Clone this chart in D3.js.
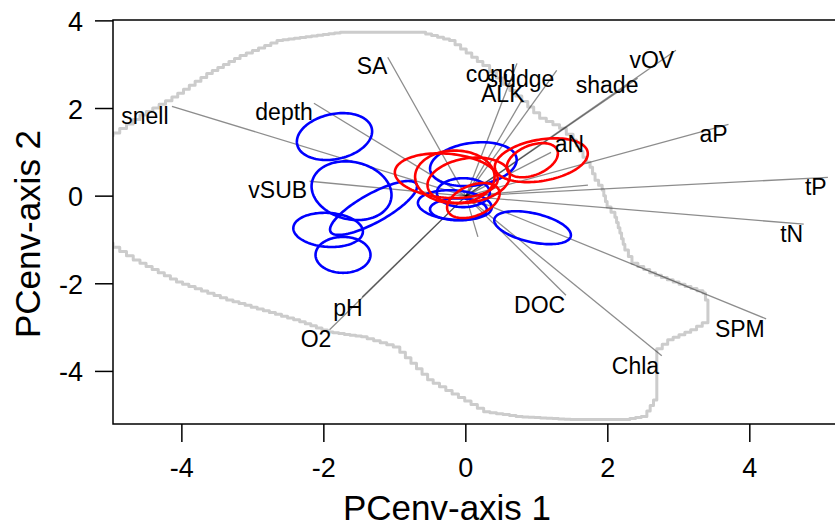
<!DOCTYPE html>
<html>
<head>
<meta charset="utf-8">
<script src="https://cdn.jsdelivr.net/npm/d3@7"></script>
<style>
  html, body { margin: 0; padding: 0; background: #fff; }
  svg { display: block; }
  text { font-family: "Liberation Sans", Arial, Helvetica, sans-serif; fill: #000; }
</style>
</head>
<body>
<svg id="chart" width="835" height="526"></svg>
<script>
// ---------------- data ----------------
const xTicks = [-4, -2, 0, 2, 4];
const yTicks = [-4, -2, 0, 2, 4];
const xTitle = "PCenv-axis 1";
const yTitle = "PCenv-axis 2";

// variable arrows (end point in PC units) and label positions (centre x, baseline y)
const varNames = ["snell","depth","SA","vSUB","cond","sludge","ALK","shade","vOV","aN","aP","tP","tN","SPM","Chla","DOC","pH","O2","",""];
const varX = [-4.14,-2.14,-1.10,-2.20,0.72,1.28,0.79,2.42,2.96,1.20,3.70,5.10,4.76,4.23,2.76,1.41,-1.46,-1.92,1.72,0.17];
const varY = [2.05,2.12,3.17,0.34,3.03,2.87,2.19,2.69,3.33,1.00,1.64,0.43,-0.64,-2.80,-3.64,-2.26,-2.30,-3.05,0.25,-0.93];
const labX = [-4.52,-2.56,-1.32,-2.65,0.35,0.77,0.52,1.99,2.62,1.46,3.49,4.93,4.59,3.86,2.39,1.04,-1.66,-2.11,null,null];
const labY = [1.64,1.73,2.78,-0.05,2.60,2.48,2.14,2.35,2.92,1.00,1.23,0.02,-1.05,-3.21,-4.05,-2.67,-2.73,-3.44,null,null];

// outline of the sampled environmental space
const hullX = [-5.15,-4.97,-4.59,-4.14,-3.65,-3.18,-2.66,-1.77,-0.65,-0.23,0.24,0.62,1.04,1.32,1.51,1.65,1.75,1.82,1.92,1.99,2.10,2.17,2.24,2.34,2.59,2.92,3.34,3.41,3.41,3.25,2.92,2.69,2.69,2.55,2.31,1.56,0.80,0.34,-0.46,-0.93,-1.39,-1.87,-2.34,-3.28,-3.99,-4.59,-4.97,-5.15];
const hullY = [1.32,1.44,1.85,2.26,2.80,3.21,3.55,3.74,3.74,3.55,2.98,2.41,1.78,1.55,1.28,0.89,0.66,0.36,0.14,-0.25,-0.48,-0.84,-1.23,-1.53,-1.75,-1.96,-2.21,-2.53,-2.89,-3.05,-3.28,-3.58,-4.65,-5.03,-5.10,-5.10,-5.03,-4.92,-4.19,-3.44,-3.21,-3.10,-2.82,-2.37,-1.96,-1.46,-1.07,-0.96];

// group ellipses: centre, half-extent along x, half-extent along y, correlation
const ellGroup = ["b","b","b","b","b","b","b","b","b","b","r","r","r","r","r","r"];
const ellCx = [-1.85,-1.61,-1.30,-1.94,-1.73,0.94,0.106,-0.035,-0.155,-0.105, 1.063,0.937,-0.275,-0.155,0.04,0.106];
const ellCy = [1.36,0.125,-0.27,-0.77,-1.34,-0.72,0.73,0.08,-0.205,-0.30, 0.82,0.82,0.467,0.44,0.36,-0.10];
const ellA  = [0.53,0.563,0.613,0.49,0.387,0.54,0.61,0.373,0.52,0.40, 0.655,0.36,0.725,0.56,0.58,0.37];
const ellB  = [0.535,0.67,0.615,0.39,0.41,0.376,0.50,0.33,0.34,0.25, 0.50,0.39,0.51,0.60,0.52,0.40];
const ellR  = [0.22,-0.15,0.8,-0.1,0.0,-0.45,0.2,0.0,-0.15,0.0, 0.3,0.4,-0.15,0.0,0.2,0.4];
const groupColor = {b: "#0000ff", r: "#ff0000"};

// ---------------- drawing ----------------
const svg = d3.select("#chart");
const pLeft = 113, pRight = 835, pTop = 20, pBottom = 424;
const x = d3.scaleLinear().domain([-4.97, 5.2]).range([pLeft, pRight]);
const y = d3.scaleLinear().domain([-5.2, 4.02]).range([pBottom, pTop]);

svg.append("defs").append("clipPath").attr("id", "plotclip")
  .append("rect").attr("x", pLeft).attr("y", pTop).attr("width", pRight - pLeft + 20).attr("height", pBottom - pTop);

const plot = svg.append("g").attr("clip-path", "url(#plotclip)");

// hull outline, rendered as a raster-like staircase (the outline comes from a gridded map)
function staircasePath(pts) {
  const p = d3.path();
  p.moveTo(pts[0][0], pts[0][1]);
  for (let i = 1; i < pts.length; i++) {
    const [x0, y0] = pts[i - 1], [x1, y1] = pts[i];
    const dx = x1 - x0, dy = y1 - y0;
    const n = Math.max(1, Math.round(Math.max(Math.abs(dx), Math.abs(dy)) / 6));
    for (let k = 1; k <= n; k++) {
      p.lineTo(x0 + dx * k / n, y0 + dy * (k - 1) / n);
      p.lineTo(x0 + dx * k / n, y0 + dy * k / n);
    }
  }
  return p.toString();
}
const hullPts = hullX.map((v, i) => [x(v), y(hullY[i])]);
plot.append("path")
  .attr("d", staircasePath(hullPts))
  .attr("fill", "none").attr("stroke", "#cccccc").attr("stroke-width", 3)
  .attr("stroke-linejoin", "round");

// arrows
plot.selectAll("line.var").data(varX.map((v, i) => i)).join("line")
  .attr("class", "var")
  .attr("x1", x(0)).attr("y1", y(0))
  .attr("x2", i => x(varX[i])).attr("y2", i => y(varY[i]))
  .attr("stroke", "#000").attr("stroke-opacity", 0.45).attr("stroke-width", 1.3);

// labels
svg.selectAll("text.var").data(varNames.map((n, i) => i).filter(i => varNames[i] !== "")).join("text")
  .attr("class", "var")
  .attr("x", i => x(labX[i])).attr("y", i => y(labY[i]))
  .attr("text-anchor", "middle")
  .style("font-size", "23px")
  .text(i => varNames[i]);

// ellipses
const tSteps = d3.range(0, 120).map(k => k / 120 * 2 * Math.PI);
const ellLine = d3.line().x(d => x(d[0])).y(d => y(d[1])).curve(d3.curveLinearClosed);
plot.selectAll("path.ell").data(ellCx.map((v, i) => i)).join("path")
  .attr("class", "ell")
  .attr("d", i => {
    const r = ellR[i], s = Math.sqrt(1 - r * r);
    return ellLine(tSteps.map(t => [ellCx[i] + ellA[i] * Math.cos(t),
                                    ellCy[i] + ellB[i] * (r * Math.cos(t) + s * Math.sin(t))]));
  })
  .attr("fill", "none")
  .attr("stroke", i => groupColor[ellGroup[i]])
  .attr("stroke-width", 2.6);

// frame (right side lies outside the window)
svg.append("path")
  .attr("d", `M${pRight + 10},${pTop}H${pLeft}V${pBottom}H${pRight + 10}`)
  .attr("fill", "none").attr("stroke", "#000").attr("stroke-width", 1.5);

// x axis ticks
const xa = svg.append("g");
xa.selectAll("line").data(xTicks).join("line")
  .attr("x1", d => x(d)).attr("x2", d => x(d))
  .attr("y1", pBottom).attr("y2", pBottom + 18)
  .attr("stroke", "#000").attr("stroke-width", 1.5);
xa.selectAll("text").data(xTicks).join("text")
  .attr("x", d => x(d)).attr("y", 477)
  .attr("text-anchor", "middle").style("font-size", "27px")
  .text(d => d);

// y axis ticks
const ya = svg.append("g");
ya.selectAll("line").data(yTicks).join("line")
  .attr("x1", pLeft - 18).attr("x2", pLeft)
  .attr("y1", d => y(d)).attr("y2", d => y(d))
  .attr("stroke", "#000").attr("stroke-width", 1.5);
ya.selectAll("text").data(yTicks).join("text")
  .attr("x", 83).attr("y", d => y(d) + 10)
  .attr("text-anchor", "end").style("font-size", "27px")
  .text(d => d);

// titles
svg.append("text").attr("x", 447).attr("y", 520)
  .attr("text-anchor", "middle").style("font-size", "35px").text(xTitle);
svg.append("text").attr("transform", "translate(40,234) rotate(-90)")
  .attr("text-anchor", "middle").style("font-size", "35px").text(yTitle);
</script>
</body>
</html>
